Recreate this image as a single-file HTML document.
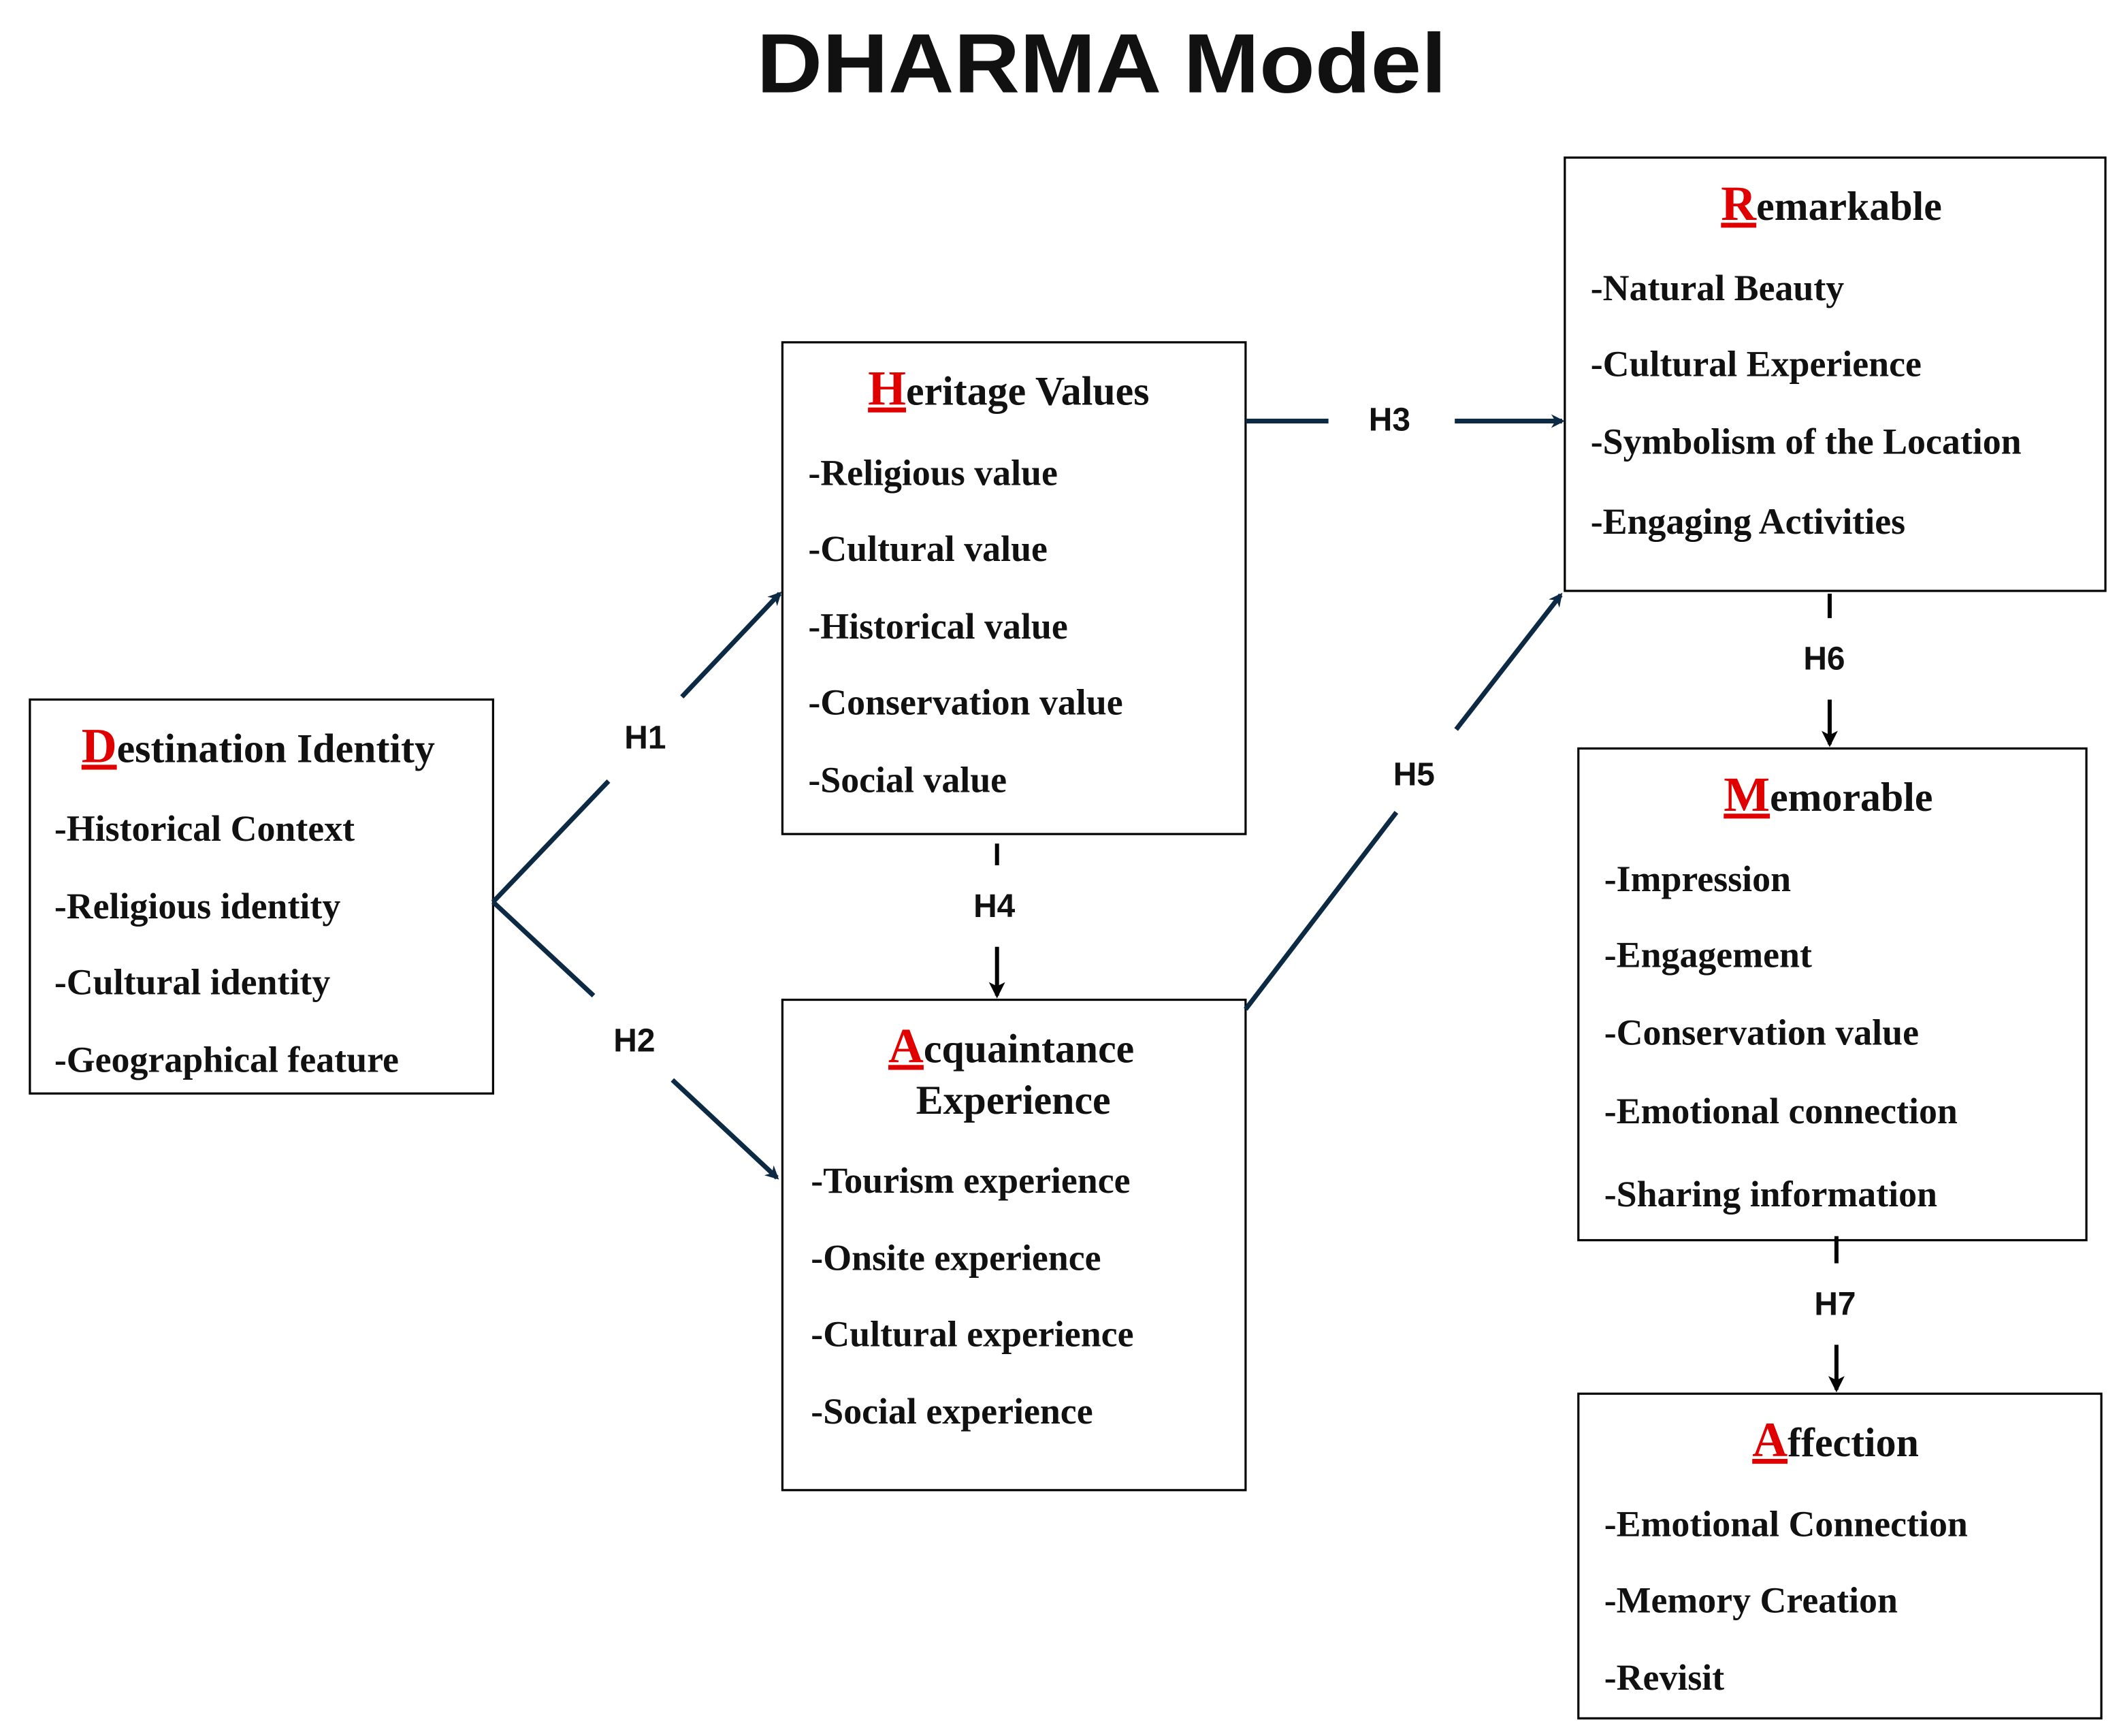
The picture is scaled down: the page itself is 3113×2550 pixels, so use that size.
<!DOCTYPE html>
<html><head><meta charset="utf-8">
<style>
html,body{margin:0;padding:0;background:#fff;}
svg{display:block;}
.t{font-family:"Liberation Serif",serif;font-weight:bold;font-size:27px;fill:#111;}
.h{font-family:"Liberation Serif",serif;font-weight:bold;font-size:30px;fill:#111;}
.r{fill:#e00000;font-size:36px;text-decoration:underline;}
.lb{font-family:"Liberation Sans",sans-serif;font-weight:bold;font-size:24px;fill:#111;text-anchor:middle;}
.box{fill:#fff;stroke:#000;stroke-width:1.6;}
.ln{stroke:#0d2a45;stroke-width:3.5;fill:none;}
.bk{stroke:#000;stroke-width:3;fill:none;}
</style></head>
<body>
<svg width="3113" height="2550" viewBox="0 0 1560 1278" preserveAspectRatio="none" xmlns="http://www.w3.org/2000/svg">
<defs>
<marker id="an" markerWidth="10" markerHeight="10" refX="8" refY="5" orient="auto" markerUnits="userSpaceOnUse">
<path d="M0,0 L10,5 L0,10 L3,5 Z" fill="#0d2a45"/></marker>
<marker id="ab" markerWidth="12" markerHeight="12" refX="10" refY="6" orient="auto" markerUnits="userSpaceOnUse">
<path d="M0,0 L12,6 L0,12 L3,6 Z" fill="#000"/></marker>
</defs>
<rect width="1560" height="1278" fill="#fff"/>
<text x="811" y="68" text-anchor="middle" font-family="Liberation Sans,sans-serif" font-weight="bold" font-size="62" textLength="508" lengthAdjust="spacingAndGlyphs" fill="#111">DHARMA Model</text>

<rect class="box" x="22" y="515" width="341" height="290"/>
<rect class="box" x="576" y="252" width="341" height="362"/>
<rect class="box" x="576" y="736" width="341" height="361"/>
<rect class="box" x="1152" y="116" width="398" height="319"/>
<rect class="box" x="1162" y="551" width="374" height="362"/>
<rect class="box" x="1162" y="1026" width="385" height="239"/>

<text class="h" x="60" y="561"><tspan class="r">D</tspan>estination Identity</text>
<text class="t" x="40" y="619">-Historical Context</text>
<text class="t" x="40" y="676">-Religious identity</text>
<text class="t" x="40" y="732">-Cultural identity</text>
<text class="t" x="40" y="789">-Geographical feature</text>

<text class="h" x="639" y="298"><tspan class="r">H</tspan>eritage Values</text>
<text class="t" x="595" y="357">-Religious value</text>
<text class="t" x="595" y="413">-Cultural value</text>
<text class="t" x="595" y="470">-Historical value</text>
<text class="t" x="595" y="526">-Conservation value</text>
<text class="t" x="595" y="583">-Social value</text>

<text class="h" x="654" y="782"><tspan class="r">A</tspan>cquaintance</text>
<text class="h" x="746" y="820" text-anchor="middle">Experience</text>
<text class="t" x="597" y="878">-Tourism experience</text>
<text class="t" x="597" y="935">-Onsite experience</text>
<text class="t" x="597" y="991">-Cultural experience</text>
<text class="t" x="597" y="1048">-Social experience</text>

<text class="h" x="1267" y="162"><tspan class="r">R</tspan>emarkable</text>
<text class="t" x="1171" y="221">-Natural Beauty</text>
<text class="t" x="1171" y="277">-Cultural Experience</text>
<text class="t" x="1171" y="334">-Symbolism of the Location</text>
<text class="t" x="1171" y="393">-Engaging Activities</text>

<text class="h" x="1269" y="597"><tspan class="r">M</tspan>emorable</text>
<text class="t" x="1181" y="656">-Impression</text>
<text class="t" x="1181" y="712">-Engagement</text>
<text class="t" x="1181" y="769">-Conservation value</text>
<text class="t" x="1181" y="827">-Emotional connection</text>
<text class="t" x="1181" y="888">-Sharing information</text>

<text class="h" x="1290" y="1072"><tspan class="r">A</tspan>ffection</text>
<text class="t" x="1181" y="1131">-Emotional Connection</text>
<text class="t" x="1181" y="1187">-Memory Creation</text>
<text class="t" x="1181" y="1244">-Revisit</text>

<line class="ln" x1="363" y1="664" x2="448" y2="575"/>
<line class="ln" x1="502" y1="513" x2="574" y2="437" marker-end="url(#an)"/>
<text class="lb" x="475" y="551">H1</text>

<line class="ln" x1="363" y1="664" x2="437" y2="733"/>
<line class="ln" x1="495" y1="795" x2="572" y2="867" marker-end="url(#an)"/>
<text class="lb" x="467" y="774">H2</text>

<line class="ln" x1="917" y1="310" x2="978" y2="310" stroke-width="4.5"/>
<line class="ln" x1="1071" y1="310" x2="1150" y2="310" stroke-width="4.5" marker-end="url(#an)"/>
<text class="lb" x="1023" y="317">H3</text>

<line class="bk" x1="734" y1="621" x2="734" y2="637"/>
<text class="lb" x="732" y="675">H4</text>
<line class="bk" x1="734" y1="697" x2="734" y2="733" marker-end="url(#ab)"/>

<line class="ln" x1="917" y1="743" x2="1028" y2="598"/>
<line class="ln" x1="1072" y1="537" x2="1149" y2="438" marker-end="url(#an)"/>
<text class="lb" x="1041" y="578">H5</text>

<line class="bk" x1="1347" y1="437" x2="1347" y2="455"/>
<text class="lb" x="1343" y="493">H6</text>
<line class="bk" x1="1347" y1="515" x2="1347" y2="548" marker-end="url(#ab)"/>

<line class="bk" x1="1352" y1="910" x2="1352" y2="930"/>
<text class="lb" x="1351" y="968">H7</text>
<line class="bk" x1="1352" y1="990" x2="1352" y2="1023" marker-end="url(#ab)"/>
</svg>
</body></html>
